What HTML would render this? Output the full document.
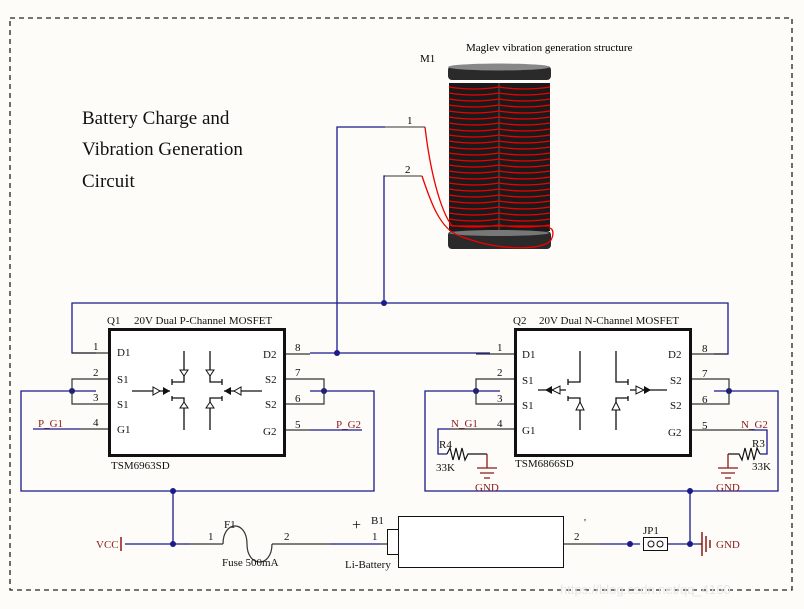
<!DOCTYPE html>
<html><head><meta charset="utf-8"><style>
html,body{margin:0;padding:0;background:#fdfcf8;}
svg{display:block;font-family:"Liberation Serif",serif;}
</style></head><body>
<svg width="804" height="609" viewBox="0 0 804 609" xmlns="http://www.w3.org/2000/svg">
<rect width="804" height="609" fill="#fdfcf8"/>
<rect x="10" y="18" width="782" height="572" fill="none" stroke="#222" stroke-width="1.3" stroke-dasharray="5,4"/>
<g font-size="19" fill="#111">
<text x="82" y="124">Battery Charge and</text>
<text x="82" y="155">Vibration Generation</text>
<text x="82" y="187">Circuit</text>
</g>
<text x="466" y="51" font-size="11">Maglev vibration generation structure</text>
<text x="420" y="62" font-size="11">M1</text>
<rect x="448" y="66" width="103" height="14" rx="4" fill="#2a2a2a"/>
<ellipse cx="499" cy="67" rx="51" ry="3.5" fill="#888"/>
<rect x="449" y="83" width="101" height="148" fill="#1a1a1a"/>
<line x1="499" y1="83" x2="499" y2="231" stroke="#555" stroke-width="1"/>
<g stroke="#e00" stroke-width="1.3" fill="none">
<path d="M449 87 Q474 91 499 87 Q524 91 550 87"/>
<path d="M449 93 Q474 97 499 93 Q524 97 550 93"/>
<path d="M449 99 Q474 103 499 99 Q524 103 550 99"/>
<path d="M449 105 Q474 109 499 105 Q524 109 550 105"/>
<path d="M449 111 Q474 115 499 111 Q524 115 550 111"/>
<path d="M449 117 Q474 121 499 117 Q524 121 550 117"/>
<path d="M449 123 Q474 127 499 123 Q524 127 550 123"/>
<path d="M449 129 Q474 133 499 129 Q524 133 550 129"/>
<path d="M449 135 Q474 139 499 135 Q524 139 550 135"/>
<path d="M449 141 Q474 145 499 141 Q524 145 550 141"/>
<path d="M449 147 Q474 151 499 147 Q524 151 550 147"/>
<path d="M449 153 Q474 157 499 153 Q524 157 550 153"/>
<path d="M449 159 Q474 163 499 159 Q524 163 550 159"/>
<path d="M449 165 Q474 169 499 165 Q524 169 550 165"/>
<path d="M449 171 Q474 175 499 171 Q524 175 550 171"/>
<path d="M449 177 Q474 181 499 177 Q524 181 550 177"/>
<path d="M449 183 Q474 187 499 183 Q524 187 550 183"/>
<path d="M449 189 Q474 193 499 189 Q524 193 550 189"/>
<path d="M449 195 Q474 199 499 195 Q524 199 550 195"/>
<path d="M449 201 Q474 205 499 201 Q524 205 550 201"/>
<path d="M449 207 Q474 211 499 207 Q524 211 550 207"/>
<path d="M449 213 Q474 217 499 213 Q524 217 550 213"/>
<path d="M449 219 Q474 223 499 219 Q524 223 550 219"/>
<path d="M449 225 Q474 229 499 225 Q524 229 550 225"/>
</g>
<rect x="448" y="231" width="103" height="18" rx="4" fill="#2a2a2a"/>
<ellipse cx="499" cy="233" rx="50" ry="3" fill="#777"/>
<path d="M425 127 C430 170 440 210 452 226 L550 226" fill="none" stroke="#e00" stroke-width="1.3"/>
<path d="M422 176 C430 200 440 230 460 236 C500 252 545 250 551 240 C555 232 552 228 549 228" fill="none" stroke="#e00" stroke-width="1.3"/>
<line x1="385" y1="127" x2="425" y2="127" stroke="#333"/>
<line x1="385" y1="176" x2="422" y2="176" stroke="#333"/>
<text x="407" y="124" font-size="11">1</text>
<text x="405" y="173" font-size="11">2</text>
<g stroke="#1a1a8c" stroke-width="1.3" fill="none">
<path d="M385 127 L337 127 L337 353"/>
<path d="M385 176 L384 176 L384 303"/>
<path d="M96 353 L72 353 L72 303 L728 303 L728 354 L714 354"/>
<path d="M310 353 L490 353"/>
<path d="M96 391 L21 391 L21 491 L374 491 L374 391 L310 391"/>
<path d="M500 391 L425 391 L425 491 L778 491 L778 391 L714 391"/>
<path d="M173 491 L173 544"/>
<path d="M690 491 L690 544"/>
<path d="M33 429 L80 429"/>
<path d="M310 430 L362 430"/>
<path d="M125 544 L190 544"/>
<path d="M330 544 L380 544"/>
<path d="M600 544 L640 544"/>
<path d="M668 544 L700 544"/>
<path d="M450 429 L438 429 L438 454 L447 454"/>
<path d="M752 430 L767 430 L767 454 L760 454"/>
</g>
<g fill="#1a1a8c">
<circle cx="384" cy="303" r="3"/><circle cx="337" cy="353" r="3"/>
<circle cx="72" cy="391" r="3"/><circle cx="324" cy="391" r="3"/>
<circle cx="476" cy="391" r="3"/><circle cx="729" cy="391" r="3"/>
<circle cx="173" cy="491" r="3"/><circle cx="690" cy="491" r="3"/>
<circle cx="173" cy="544" r="3"/><circle cx="630" cy="544" r="3"/><circle cx="690" cy="544" r="3"/>
</g>
<g stroke="#333" stroke-width="1.2" fill="none">
<path d="M72 353 L108 353 M72 379 L108 379 L72 379 L72 404 L108 404 M80 429 L108 429"/>
<path d="M286 354 L310 354 M286 379 L324 379 L324 404 L286 404 M286 430 L310 430"/>
<path d="M476 354 L514 354 M476 379 L514 379 L476 379 L476 404 L514 404 M476 429 L514 429 M450 429 L476 429"/>
<path d="M692 354 L728 354 M692 379 L729 379 L729 404 L692 404 M692 430 L752 430"/>
</g>
<rect x="109.5" y="329.5" width="175" height="126" fill="#fff" stroke="#111" stroke-width="3"/>
<rect x="515.5" y="329.5" width="175" height="126" fill="#fff" stroke="#111" stroke-width="3"/>
<g font-size="11" fill="#111">
<text x="107" y="324">Q1</text><text x="134" y="324">20V Dual P-Channel MOSFET</text>
<text x="111" y="469">TSM6963SD</text>
<text x="93" y="350">1</text><text x="93" y="376">2</text><text x="93" y="401">3</text><text x="93" y="426">4</text>
<text x="117" y="356">D1</text><text x="117" y="383">S1</text><text x="117" y="408">S1</text><text x="117" y="433">G1</text>
<text x="263" y="358">D2</text><text x="265" y="383">S2</text><text x="265" y="408">S2</text><text x="263" y="435">G2</text>
<text x="295" y="351">8</text><text x="295" y="376">7</text><text x="295" y="402">6</text><text x="295" y="428">5</text>
<text x="513" y="324">Q2</text><text x="539" y="324">20V Dual N-Channel MOSFET</text>
<text x="515" y="467">TSM6866SD</text>
<text x="497" y="351">1</text><text x="497" y="376">2</text><text x="497" y="402">3</text><text x="497" y="427">4</text>
<text x="522" y="358">D1</text><text x="522" y="384">S1</text><text x="522" y="409">S1</text><text x="522" y="434">G1</text>
<text x="668" y="358">D2</text><text x="670" y="384">S2</text><text x="670" y="409">S2</text><text x="668" y="436">G2</text>
<text x="702" y="352">8</text><text x="702" y="377">7</text><text x="702" y="403">6</text><text x="702" y="429">5</text>
</g>
<g font-size="11" fill="#8b1a1a">
<text x="38" y="427">P_G1</text><text x="336" y="428">P_G2</text>
<text x="451" y="427">N_G1</text><text x="741" y="428">N_G2</text>
</g>
<g stroke="#111" stroke-width="1.3" fill="none">
<path d="M184 351 L184 382 L172 382 M172 379 L172 385 M172 396 L172 401 M172 398 L184 398 L184 430"/>
<path d="M210 351 L210 382 L222 382 M222 379 L222 385 M222 396 L222 401 M222 398 L210 398 L210 430"/>
<path d="M132 391 L170 391 M224 391 L262 391"/>
<path d="M580 351 L580 382 L568 382 M568 379 L568 385 M568 396 L568 401 M568 398 L580 398 L580 430"/>
<path d="M616 351 L616 382 L628 382 M628 379 L628 385 M628 396 L628 401 M628 398 L616 398 L616 430"/>
<path d="M538 390 L566 390 M630 390 L667 390"/>
</g>
<g stroke="#111" stroke-width="1" fill="#fff">
<path d="M180 370 L188 370 L184 376 Z"/><path d="M206 370 L214 370 L210 376 Z"/>
<path d="M180 408 L188 408 L184 402 Z"/><path d="M206 408 L214 408 L210 402 Z"/>
<path d="M153 387 L153 395 L160 391 Z"/><path d="M241 387 L241 395 L234 391 Z"/>
<path d="M576 410 L584 410 L580 402 Z"/><path d="M612 410 L620 410 L616 402 Z"/>
<path d="M560 386 L560 394 L552 390 Z"/><path d="M636 386 L636 394 L644 390 Z"/>
</g>
<g fill="#111">
<path d="M163 387 L163 395 L170 391 Z"/><path d="M231 387 L231 395 L224 391 Z"/>
<path d="M552 386 L552 394 L545 390 Z"/><path d="M644 386 L644 394 L651 390 Z"/>
</g>
<g stroke="#111" stroke-width="1.2" fill="none">
<path d="M447 454 L450 448 L453 460 L456 448 L459 460 L462 448 L465 460 L468 454 L487 454"/>
<path d="M760 454 L757 448 L754 460 L751 448 L748 460 L745 448 L742 460 L739 454 L728 454"/>
</g>
<g stroke="#8b1a1a" stroke-width="1.3">
<path d="M487 454 L487 468 M477 468 L497 468 M480 473 L494 473 M484 478 L490 478"/>
<path d="M728 454 L728 468 M718 468 L738 468 M721 473 L735 473 M725 478 L731 478"/>
</g>
<g font-size="11" fill="#111">
<text x="439" y="448">R4</text><text x="436" y="471">33K</text>
<text x="752" y="447">R3</text><text x="752" y="470">33K</text>
</g>
<g font-size="11" fill="#8b1a1a"><text x="475" y="491">GND</text><text x="716" y="491">GND</text></g>
<g stroke="#333" stroke-width="1.2" fill="none">
<path d="M190 544 L223 544 M272 544 L330 544 M380 544 L387 544 M564 544 L600 544"/>
<path d="M223 544 C223 520 247 520 247 544 C247 568 272 568 272 544"/>
</g>
<rect x="387.5" y="529.5" width="11" height="25" fill="#fff" stroke="#111"/>
<rect x="398.5" y="516.5" width="165" height="51" fill="#fff" stroke="#111"/>
<rect x="643.5" y="537.5" width="24" height="13" fill="#fff" stroke="#111"/>
<circle cx="651" cy="544" r="3" fill="none" stroke="#111"/><circle cx="660" cy="544" r="3" fill="none" stroke="#111"/>
<g stroke="#8b1a1a" stroke-width="1.5">
<path d="M121 537 L121 551"/>
<path d="M700 544 L702 544 M702 532 L702 556 M706 536 L706 552 M710 540 L710 548"/>
</g>
<g font-size="11" fill="#111">
<text x="224" y="528">F1</text><text x="208" y="540">1</text><text x="284" y="540">2</text>
<text x="222" y="566">Fuse 500mA</text>
<text x="371" y="524">B1</text><text x="372" y="540">1</text><text x="345" y="568">Li-Battery</text>
<text x="574" y="540">2</text><text x="584" y="526">'</text>
<text x="643" y="534">JP1</text>
<text x="352" y="530" font-size="16">+</text>
</g>
<g font-size="11" fill="#8b1a1a"><text x="96" y="548">VCC</text><text x="716" y="548">GND</text></g>
<text x="560" y="594" font-size="13" fill="#e6e6e6" font-family="Liberation Sans,sans-serif">https://blog.csdn.net/qq_4160</text>
</svg>
</body></html>
